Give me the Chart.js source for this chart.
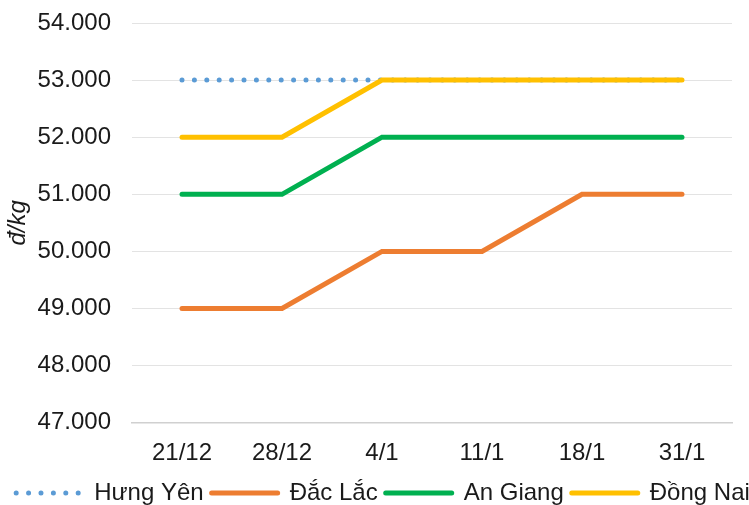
<!DOCTYPE html>
<html>
<head>
<meta charset="utf-8">
<script src="https://cdn.jsdelivr.net/npm/chart.js@4"></script>
<style>
  html, body { margin: 0; padding: 0; background: #fff; overflow: hidden; }
  #wrap { width: 749px; height: 505px; overflow: hidden; position: relative; }
  #c { display: block; }
</style>
</head>
<body>
<div id="wrap"><canvas id="c" width="766" height="515"></canvas></div>
<script>
const categories = ['21/12', '28/12', '4/1', '11/1', '18/1', '31/1'];
const hungYen = [53000, 53000, 53000, 53000, 53000, 53000];
const dacLac = [49000, 49000, 50000, 50000, 51000, 51000];
const anGiang = [51000, 51000, 52000, 52000, 52000, 52000];
const dongNai = [52000, 52000, 53000, 53000, 53000, 53000];
const seriesNames = ['Hưng Yên', 'Đắc Lắc', 'An Giang', 'Đồng Nai'];
const yMin = 47000, yMax = 54000, yStep = 1000;
const yTitle = 'đ/kg';

function fmt(v) {
  const s = String(Math.round(v));
  return s.replace(/\B(?=(\d{3})+(?!\d))/g, '.');
}

const FONT = "'Liberation Sans', Arial, sans-serif";
Chart.defaults.font.family = FONT;
Chart.defaults.color = '#1a1a1a';

const common = { pointRadius: 0, pointHoverRadius: 0, tension: 0, fill: false, pointStyle: 'line', borderWidth: 5 };

new Chart(document.getElementById('c'), {
  type: 'line',
  data: {
    labels: categories,
    datasets: [
      Object.assign({}, common, { label: seriesNames[0], data: hungYen, borderColor: '#5B9BD5', backgroundColor: '#5B9BD5', borderDash: [0, 12.4], borderCapStyle: 'round', borderWidth: 5, order: 3 }),
      Object.assign({}, common, { label: seriesNames[1], data: dacLac, borderColor: '#ED7D31', backgroundColor: '#ED7D31', borderCapStyle: 'round', order: 2 }),
      Object.assign({}, common, { label: seriesNames[2], data: anGiang, borderColor: '#00B050', backgroundColor: '#00B050', borderCapStyle: 'round', order: 1 }),
      Object.assign({}, common, { label: seriesNames[3], data: dongNai, borderColor: '#FFC000', backgroundColor: '#FFC000', borderCapStyle: 'round', order: 0 })
    ]
  },
  options: {
    responsive: false,
    animation: false,
    layout: { padding: { top: 23, right: 0, left: 0, bottom: 0 } },
    plugins: {
      tooltip: { enabled: false },
      legend: {
        position: 'bottom',
        labels: {
          usePointStyle: true,
          pointStyleWidth: 66,
          padding: 8,
          color: '#1a1a1a',
          font: { size: 24, family: FONT },
          sort: (a, b) => a.datasetIndex - b.datasetIndex,
          generateLabels: (chart) => {
            const items = Chart.defaults.plugins.legend.labels.generateLabels(chart);
            items.forEach((it) => {
              const ds = chart.data.datasets[it.datasetIndex];
              it.lineDash = ds.borderDash || [];
              it.lineCap = ds.borderCapStyle || 'butt';
              it.lineWidth = ds.borderWidth;
              it.strokeStyle = ds.borderColor;
              it.pointStyle = 'line';
            });
            return items;
          }
        }
      }
    },
    scales: {
      x: {
        offset: true,
        grid: { display: false, drawTicks: false, offset: true },
        border: { display: true, color: '#D0D0D0', width: 1.5 },
        ticks: { font: { size: 24 }, color: '#1a1a1a', padding: 16, maxRotation: 0 },
        afterFit: (s) => { s.height = 50.3; }
      },
      y: {
        min: yMin, max: yMax,
        grid: { color: '#E3E3E3', lineWidth: 1, drawTicks: true, tickLength: 21, tickColor: 'rgba(0,0,0,0)' },
        border: { display: false },
        ticks: { stepSize: yStep, font: { size: 24 }, color: '#1a1a1a', padding: 0, callback: (v) => fmt(v) },
        title: { display: true, text: yTitle, font: { size: 24, style: 'italic' }, color: '#1a1a1a', padding: { top: 4, bottom: 0 } },
        afterFit: (s) => { s.width = 132; }
      },
      yR: {
        type: 'linear',
        position: 'right',
        display: true,
        grid: { display: false, drawTicks: false },
        border: { display: false },
        ticks: { display: false },
        afterFit: (s) => { s.width = 34; }
      }
    }
  }
});
</script>
</body>
</html>
